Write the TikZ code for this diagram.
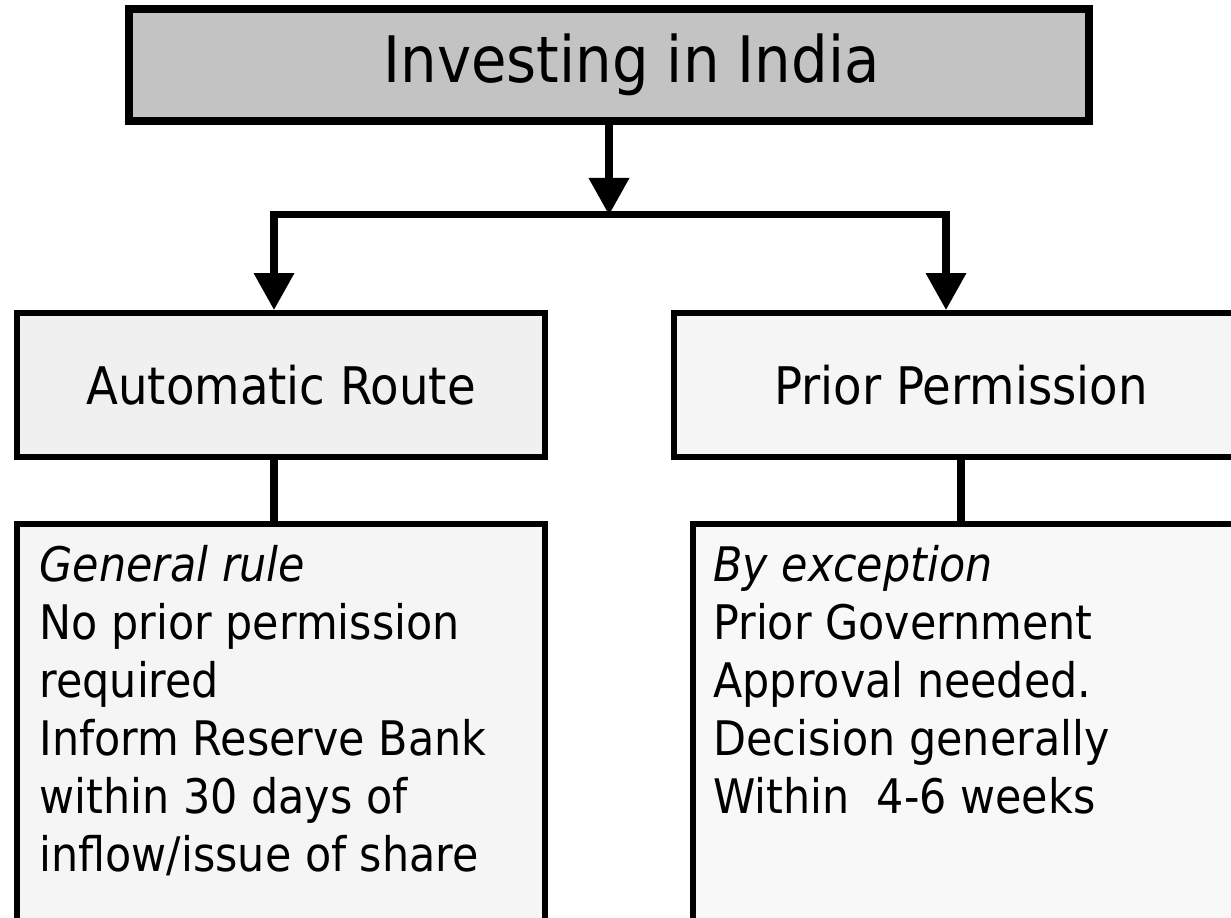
\documentclass[tikz,border=0pt]{standalone}
\usepackage{fontspec}
\setmainfont{DejaVu Sans}[FakeStretch=0.9]
\usepackage{tikz}
\usetikzlibrary{arrows.meta}

\definecolor{headgray}{HTML}{C3C3C3}
\definecolor{routegray}{HTML}{F0F0F0}
\definecolor{notegray}{HTML}{F5F5F5}

\begin{document}
\begin{tikzpicture}[x=0.02cm, y=0.02cm,
		box/.style={draw, line width=3.4pt, inner sep=0pt},
		link/.style={line width=4pt, -{Triangle[length=0.74cm, width=0.78cm]}},
		wire/.style={line width=4pt}]
	\useasboundingbox (0,0) rectangle (1231,918);
	\clip (0,0) rectangle (1231,918);

	\node (top) [box, line width=4.5pt, fill=headgray, minimum width=19.2cm, minimum height=2.24cm, font=\fontsize{36.5}{43}\selectfont] at (609,853) {\hspace*{0.9cm}Investing in India};

	\node (auto) [box, fill=routegray, minimum width=10.56cm, minimum height=2.88cm, font=\fontsize{29.5}{36}\selectfont] at (281,533) {Automatic Route};
	\node (prior) [box, fill=notegray, minimum width=11.5cm, minimum height=2.88cm, font=\fontsize{29.5}{36}\selectfont] at (961,533) {Prior Permission};

	\node (rule) [box, line width=3.2pt, fill=notegray, minimum width=10.56cm, minimum height=9cm, anchor=north] at (281,397) {};
	\node (exc) [box, line width=3.2pt, fill=notegray!70!white, minimum width=11.2cm, minimum height=9cm, anchor=north west] at (690,397) {};

	% texts of the two lower boxes
	\node (ruletext) [anchor=north west, inner sep=0pt, align=left, font=\fontsize{27.1}{33}\selectfont] at ([shift={(25,-24)}]rule.north west)
		{\textit{General rule}\\No prior permission\\required\\Inform Reserve Bank\\within 30 days of\\inflow/issue of share};
	\node (exctext) [anchor=north west, inner sep=0pt, align=left, font=\fontsize{27.1}{33}\selectfont] at ([shift={(23,-24)}]exc.north west)
		{\textit{By exception}\\Prior Government\\Approval needed.\\Decision generally\\Within~ 4-6 weeks};

	\coordinate (fork) at (609,703);
	\coordinate (forkL) at (274,703);
	\coordinate (forkR) at (946,703);

	\draw[link] (top) -- (fork);
	\draw[wire] ([xshift=-2pt]forkL) -- ([xshift=2pt]forkR);
	\draw[link] (forkL) -- (forkL |- auto.north);
	\draw[link] (forkR) -- (forkR |- prior.north);

	\draw[wire] (auto.south -| forkL) -- (rule.north -| forkL);
	\draw[wire] (prior.south) -- (prior.south |- exc.north);
\end{tikzpicture}
\end{document}
